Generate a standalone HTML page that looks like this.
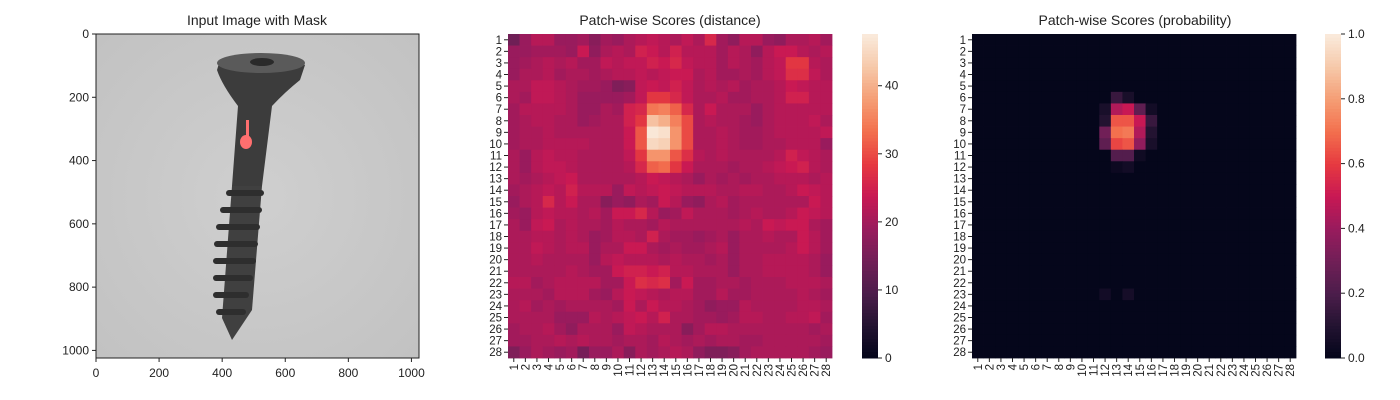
<!DOCTYPE html>
<html><head><meta charset="utf-8"><style>
body{margin:0;background:#fff}
svg{display:block;font-family:"Liberation Sans",sans-serif}
</style></head><body>
<svg id="chart" width="1400" height="400" viewBox="0 0 1400 400" xmlns="http://www.w3.org/2000/svg">
<g id="p1">
 <text x="257" y="25" font-size="14" text-anchor="middle" fill="#222">Input Image with Mask</text>
 <defs><radialGradient id="bg" cx="0.5" cy="0.5" r="0.7"><stop offset="0" stop-color="#cfcfcf"/><stop offset="1" stop-color="#c2c2c2"/></radialGradient></defs>
 <rect x="96" y="34" width="323" height="324" fill="url(#bg)"/>
 <g>
  <path d="M220,60 Q262,50 305,65 L300,80 Q285,92 272,106 L262,186 L232,186 L238,106 Q222,85 217,70 Z" fill="#3c3c3c"/>
  <ellipse cx="261" cy="63" rx="44" ry="10" fill="#5a5a5a"/>
  <ellipse cx="262" cy="62" rx="12" ry="4" fill="#2a2a2a"/>
  <path d="M232,186 L262,186 L252,310 L232,340 L222,318 Z" fill="#404040"/>
  <g fill="#2e2e2e">
   <rect x="226" y="190" width="38" height="6" rx="3"/><rect x="220" y="207" width="42" height="6" rx="3"/>
   <rect x="216" y="224" width="44" height="6" rx="3"/><rect x="214" y="241" width="44" height="6" rx="3"/>
   <rect x="213" y="258" width="43" height="6" rx="3"/><rect x="213" y="275" width="40" height="6" rx="3"/>
   <rect x="213" y="292" width="36" height="6" rx="3"/><rect x="216" y="309" width="30" height="6" rx="3"/>
  </g>
 </g>
 <g fill="#ff6f6f">
  <rect x="246" y="120" width="3" height="16"/>
  <ellipse cx="246" cy="142" rx="6" ry="7"/>
 </g>
 <rect x="96" y="34" width="323" height="324" fill="none" stroke="#222" stroke-width="1"/>
 <g id="p1ticks" font-size="12" fill="#222"></g>
</g>
<g id="p2">
 <text x="670" y="25" font-size="14" text-anchor="middle" fill="#222">Patch-wise Scores (distance)</text>
 <g id="hm1"></g><g id="cb1"></g>
</g>
<g id="p3">
 <text x="1135" y="25" font-size="14" text-anchor="middle" fill="#222">Patch-wise Scores (probability)</text>
 <g id="hm2"></g><g id="cb2"></g>
</g>
</svg>
<script>
const NS="http://www.w3.org/2000/svg";
const imgTicks=[0,200,400,600,800,1000];
const patchLabels=Array.from({length:28},(_,i)=>String(i+1));
const distRowsText=[
"14 19 22 22 19 19 20 17 20 19 21 22 23 22 21 23 21 26 20 18 22 22 19 18 21 21 22 20",
"19 19 20 20 20 19 24 18 21 22 21 25 24 22 25 22 22 22 20 22 21 18 22 24 24 22 21 22",
"19 20 21 22 21 22 20 20 23 22 23 23 25 24 26 23 22 22 20 22 21 20 22 23 28 28 22 21",
"19 21 21 22 20 21 21 20 21 22 22 23 22 23 24 24 21 22 20 20 21 20 22 23 27 27 23 21",
"21 21 23 23 22 21 20 20 19 16 17 23 24 23 25 23 21 22 21 22 20 21 21 22 24 23 22 22",
"21 20 23 23 22 21 19 19 19 19 20 23 28 28 26 23 21 21 22 20 20 21 21 22 25 25 22 22",
"20 22 22 22 22 21 19 19 21 20 25 26 34 35 32 26 21 24 21 21 21 19 21 22 22 22 22 22",
"20 21 22 22 21 21 19 20 21 21 25 28 42 40 35 30 21 22 21 21 20 19 21 22 22 22 23 21",
"20 21 21 22 21 21 21 21 21 21 24 31 47 46 37 30 21 21 22 21 20 20 21 22 22 22 22 23",
"20 21 21 22 22 22 22 21 21 21 24 31 45 44 37 30 21 21 22 21 20 20 21 21 22 22 22 19",
"21 19 22 23 22 22 21 21 21 21 23 28 37 37 31 27 22 21 22 21 21 21 21 22 25 23 22 21",
"21 19 22 23 23 22 21 21 21 21 22 26 32 33 28 24 21 21 21 20 21 21 22 23 24 25 22 21",
"21 20 21 22 23 24 21 21 21 21 21 22 24 23 22 21 19 21 20 21 20 21 21 22 22 22 21 22",
"20 21 22 23 22 25 22 22 22 19 23 22 23 24 23 22 22 22 21 21 22 22 21 21 22 24 23 22",
"19 21 22 26 22 24 21 21 17 19 18 21 20 24 22 19 18 21 22 20 21 21 21 21 21 21 24 22",
"20 19 22 23 22 22 21 22 20 24 24 26 22 19 20 23 21 21 21 20 21 22 21 21 22 24 23 22",
"21 19 23 24 21 22 21 21 20 22 21 21 20 22 21 21 21 21 21 21 22 21 24 23 24 24 21 20",
"21 21 22 22 21 22 21 19 20 22 22 21 25 21 20 20 19 20 21 19 21 21 22 21 21 24 22 20",
"21 21 23 22 21 22 22 19 21 21 24 24 21 20 21 20 20 21 22 19 21 21 21 21 22 24 22 20",
"21 21 22 21 21 21 21 19 22 23 22 22 22 21 22 21 21 20 21 19 21 21 22 22 22 22 21 19",
"21 21 21 21 21 22 21 20 20 24 25 25 24 25 22 22 21 21 21 19 21 21 22 22 22 22 21 19",
"22 22 20 21 22 22 22 22 20 20 24 27 26 27 20 24 20 20 21 21 20 21 21 21 22 22 22 21",
"21 21 21 20 22 22 22 20 19 22 24 23 22 21 22 22 20 20 22 20 20 21 21 21 21 22 21 20",
"21 22 20 21 20 21 21 21 21 20 24 21 24 22 22 21 20 18 19 19 22 21 21 21 21 22 22 21",
"21 21 21 21 19 19 19 22 21 22 23 24 22 25 21 21 20 20 19 20 22 22 21 21 22 22 23 20",
"20 21 21 22 20 18 21 21 21 19 23 22 21 21 21 17 20 22 22 21 21 21 21 21 21 21 20 21",
"20 20 21 21 22 21 22 21 21 20 21 21 20 22 21 20 21 20 21 21 20 20 21 21 21 21 21 20",
"16 19 21 20 19 20 15 19 19 21 17 21 20 21 22 21 18 16 16 17 20 21 21 21 21 21 20 19"];
const distTicks=[0,10,20,30,40];
const distMax=47.6;
const probRowIdx=[5,5,6,6,6,6,6,7,7,7,7,7,8,8,8,8,8,9,9,9,9,9,10,10,10,11,11,22,22];
const probColIdx=[12,13,11,12,13,14,15,11,12,13,14,15,11,12,13,14,15,11,12,13,14,15,12,13,14,12,13,11,13];
const probVals=[0.15,0.07,0.07,0.45,0.5,0.25,0.05,0.1,0.65,0.65,0.5,0.15,0.3,0.7,0.72,0.45,0.1,0.25,0.62,0.65,0.38,0.07,0.22,0.22,0.04,0.03,0.05,0.05,0.06];
const probTicks=[0,0.2,0.4,0.6,0.8,1.0];
const distMatrix=distRowsText.map(r=>r.split(" ").map(Number));
const probMatrix=Array.from({length:28},()=>Array(28).fill(0.005));
probVals.forEach((v,i)=>{probMatrix[probRowIdx[i]][probColIdx[i]]=v;});

const stops=[[0,3,5,26],[0.1,35,19,49],[0.2,76,29,75],[0.3,113,31,87],[0.4,153,27,93],[0.5,200,24,84],[0.6,230,58,64],[0.7,243,112,78],[0.8,245,158,117],[0.9,246,201,170],[1,250,235,221]];
function rocket(t){t=Math.max(0,Math.min(1,t));for(let i=1;i<stops.length;i++){if(t<=stops[i][0]){const a=stops[i-1],b=stops[i],f=(t-a[0])/(b[0]-a[0]);return `rgb(${[1,2,3].map(k=>Math.round(a[k]+(b[k]-a[k])*f)).join(",")})`;}}return "rgb(250,235,221)";}
function el(tag,attrs,parent,text){const e=document.createElementNS(NS,tag);for(const k in attrs)e.setAttribute(k,attrs[k]);if(text!==undefined)e.textContent=text;parent.appendChild(e);return e;}

// panel 1 axes
const p1=document.getElementById("p1ticks");
const imgX=v=>96+v*323/1024, imgY=v=>34+v*324/1024;
imgTicks.forEach(v=>{
 el("line",{x1:imgX(v),x2:imgX(v),y1:358,y2:362,stroke:"#222"},p1);
 const t=el("text",{x:imgX(v),y:377,"text-anchor":"middle"},p1,String(v));
 
 
 el("line",{x1:92,x2:96,y1:imgY(v),y2:imgY(v),stroke:"#222"},p1);
 const u=el("text",{x:89,y:imgY(v)+4,"text-anchor":"end"},p1,String(v));
 
 
});

function heatmap(gid,cbid,M,x0,vmax,ticks,cbx,fmt){
 const g=document.getElementById(gid),y0=34,W=324,n=28,c=W/n;
 const xs=i=>x0+i*c, ys=j=>y0+j*c;
 M.forEach((row,r)=>row.forEach((v,k)=>{
  const rc=el("rect",{x:xs(k),y:ys(r),width:c+0.4,height:c+0.4,fill:rocket(v/vmax)},g);
  
  
 }));
 patchLabels.forEach((lab,i)=>{
  el("line",{x1:x0-4,x2:x0,y1:ys(i)+c/2,y2:ys(i)+c/2,stroke:"#222"},g);
  const t=el("text",{x:x0-6,y:ys(i)+c/2+4,"font-size":"11.5","text-anchor":"end",fill:"#222"},g,lab);
  
  
  el("line",{x1:xs(i)+c/2,x2:xs(i)+c/2,y1:358,y2:362,stroke:"#222"},g);
  const tx=xs(i)+c/2+4, ty=364;
  const u=el("text",{x:tx,y:ty,"font-size":"11.5","text-anchor":"end",fill:"#222",transform:`rotate(-90 ${tx} ${ty})`},g,lab);
  
  
 });
 const cb=document.getElementById(cbid);
 const N=100;
 for(let i=0;i<N;i++){
  const r=el("rect",{x:cbx,y:y0+W*(1-(i+1)/N),width:16,height:W/N+0.5,fill:rocket((i+0.5)/N)},cb);
  
  
 }
 const cy=v=>y0+W*(1-v/vmax);
 ticks.forEach(v=>{
  el("line",{x1:cbx+16,x2:cbx+20,y1:cy(v),y2:cy(v),stroke:"#222"},cb);
  const t=el("text",{x:cbx+23,y:cy(v)+4,"font-size":"12",fill:"#222"},cb,fmt(v));
  
  
 });
}
heatmap("hm1","cb1",distMatrix,508,distMax,distTicks,862,v=>String(v));
heatmap("hm2","cb2",probMatrix,972,1,probTicks,1325,v=>v.toFixed(1));
</script>
</body></html>
